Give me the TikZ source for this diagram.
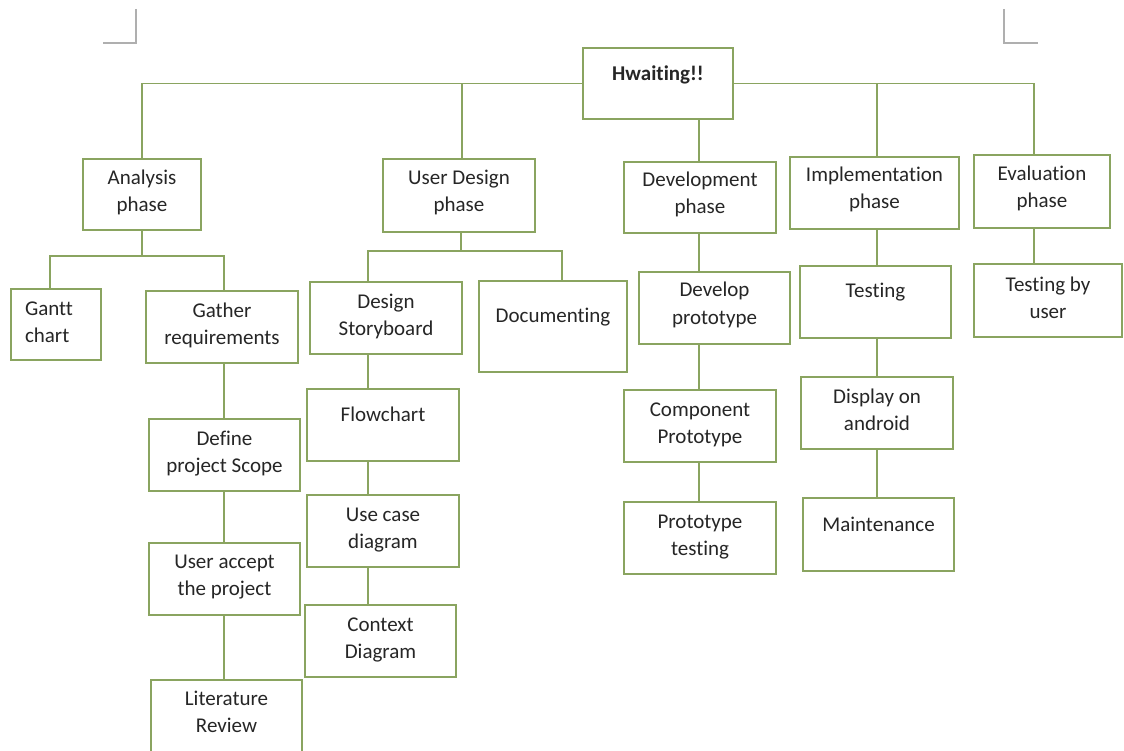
\documentclass[tikz,border=0pt]{standalone}
\usepackage{fontspec}
\setmainfont[Ligatures=NoCommon]{Carlito}
\definecolor{linegreen}{RGB}{138,164,96}
\definecolor{markgray}{RGB}{175,175,175}
% top-anchored text block: width, height, first-baseline depth, text
\newcommand\tb[4]{\parbox[c][#2pt][t]{#1pt}{\centering\rule{0pt}{#3pt}#4}}
\newcommand\tbl[4]{\parbox[c][#2pt][t]{#1pt}{\raggedright\rule{0pt}{#3pt}#4}}
% box from its corners: name, x1, y1, x2, y2, baseline, text
\newcommand\wbox[7]{%
  \pgfmathsetmacro\cx{(#2+#4)/2}\pgfmathsetmacro\cy{(#3+#5)/2}%
  \pgfmathsetmacro\bw{#4-#2}\pgfmathsetmacro\bh{#5-#3}%
  \node[box, minimum width=\bw pt, minimum height=\bh pt] (#1) at (\cx,\cy) {\tb{\bw}{\bh}{#6}{#7}};}
\begin{document}
\begin{tikzpicture}[x=1pt,y=-1pt,
  box/.style={draw=linegreen, line width=1.4pt, fill=white, inner sep=0pt, outer sep=0pt,
    font=\fontsize{21}{27}\selectfont, text=black!85},
  link/.style={draw=linegreen, line width=1.4pt},
  cornermark/.style={draw=markgray, line width=1.2pt}]
\useasboundingbox (0,0) rectangle (1124,751);
\clip (0,0) rectangle (1124,751);

% page corner marks
\coordinate (mL) at (136,43);
\coordinate (mR) at (1004,43);
\draw[cornermark] (136,9) -- (mL) -- (103,43);
\draw[cornermark] (1004,9) -- (mR) -- (1038,43);

% root and phases
\wbox{root}{583}{48}{733}{119}{33}{\textbf{Hwaiting!!}}
\wbox{ana}{83}{159}{201}{230}{26}{Analysis\\phase}
\wbox{ud}{383}{159}{535}{232}{26}{User Design\\phase}
\wbox{dev}{624}{162}{776}{233}{25}{Development\\phase}
\wbox{impl}{790}{157}{959}{229}{25}{Implementation\\phase}
\wbox{eval}{974}{155}{1110}{228}{26}{Evaluation\\phase}

% analysis branch
\node[box, minimum width=90pt, minimum height=71pt] (gantt) at (56,324.5)
  {\tbl{90}{71}{26}{\hspace*{14pt}Gantt\\\hspace*{14pt}chart}};
\wbox{gather}{146}{291}{298}{363}{26}{Gather\\requirements}
\wbox{define}{149}{419}{300}{491}{26}{Define\\project Scope}
\wbox{accept}{149}{543}{300}{615}{25}{User accept\\the project}
\wbox{lit}{151}{680}{302}{760}{25}{Literature\\Review}

% user design branch
\wbox{story}{310}{282}{462}{354}{26}{Design\\Storyboard}
\wbox{doc}{479}{281}{627}{372}{41}{Documenting}
\wbox{flow}{307}{389}{459}{461}{32}{Flowchart}
\wbox{usecase}{307}{495}{459}{567}{26}{Use case\\diagram}
\wbox{context}{305}{605}{456}{677}{26}{Context\\Diagram}

% development branch
\wbox{devproto}{639}{272}{790}{344}{25}{Develop\\prototype}
\wbox{comp}{624}{390}{776}{462}{26}{Component\\Prototype}
\wbox{ptest}{624}{502}{776}{574}{26}{Prototype\\testing}

% implementation branch
\wbox{testing}{800}{266}{951}{338}{32}{Testing}
\wbox{display}{801}{377}{953}{449}{26}{Display on\\android}
\wbox{maint}{803}{498}{954}{571}{33}{Maintenance}

% evaluation branch
\wbox{tuser}{974}{264}{1122}{337}{27}{Testing by\\user}

% connector columns and bus rows
\coordinate (xUD) at (462,0);
\coordinate (xDev) at (699,0);
\coordinate (xImp) at (877,0);
\coordinate (xEval) at (1034,0);
\coordinate (xG) at (50,0);
\coordinate (xR) at (224,0);
\coordinate (xUDb) at (461,0);
\coordinate (xS) at (368,0);
\coordinate (xDoc) at (562,0);
\coordinate (yA) at (0,256);
\coordinate (yU) at (0,251);

% root to phases
\draw[link] (root.west) -| (ana.north);
\draw[link] (root.east) -| (xEval |- eval.north);
\draw[link] (xUD |- root.west) -- (xUD |- ud.north);
\draw[link] (xImp |- root.east) -- (xImp |- impl.north);
\draw[link] (xDev |- root.south) -- (xDev |- dev.north);

% analysis tree
\draw[link] (ana.south) -- (ana.south |- yA);
\draw[link] (xG |- gantt.north) |- (xR |- yA) -- (xR |- gather.north);
\draw[link] (xR |- gather.south) -- (xR |- define.north);
\draw[link] (xR |- define.south) -- (xR |- accept.north);
\draw[link] (xR |- accept.south) -- (xR |- lit.north);

% user design tree
\draw[link] (xUDb |- ud.south) -- (xUDb |- yU);
\draw[link] (xS |- story.north) |- (xDoc |- yU) -- (xDoc |- doc.north);
\draw[link] (xS |- story.south) -- (xS |- flow.north);
\draw[link] (xS |- flow.south) -- (xS |- usecase.north);
\draw[link] (xS |- usecase.south) -- (xS |- context.north);

% development tree
\draw[link] (xDev |- dev.south) -- (xDev |- devproto.north);
\draw[link] (xDev |- devproto.south) -- (xDev |- comp.north);
\draw[link] (xDev |- comp.south) -- (xDev |- ptest.north);

% implementation tree
\draw[link] (xImp |- impl.south) -- (xImp |- testing.north);
\draw[link] (xImp |- testing.south) -- (xImp |- display.north);
\draw[link] (xImp |- display.south) -- (xImp |- maint.north);

% evaluation tree
\draw[link] (xEval |- eval.south) -- (xEval |- tuser.north);
\end{tikzpicture}
\end{document}
